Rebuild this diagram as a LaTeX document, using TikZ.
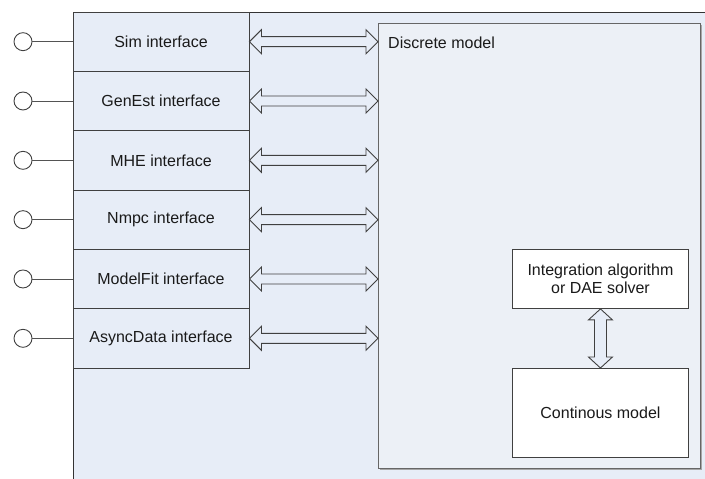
\documentclass[tikz,border=0pt]{standalone}
\usepackage{fontspec}
\setmainfont{Liberation Sans}
\usetikzlibrary{calc}
\definecolor{panelbg}{RGB}{231,237,247}
\definecolor{modelbg}{RGB}{236,240,246}
\definecolor{edge}{RGB}{64,64,64}
\definecolor{ink}{RGB}{26,26,26}
\tikzset{
  ifbox/.style={draw=edge, line width=0.9pt, fill=panelbg, minimum width=176pt,
    minimum height=59.33pt, inner sep=0pt, text=ink, font=\fontsize{16}{18}\selectfont},
  port/.style={circle, draw=edge, line width=0.9pt, fill=white, minimum size=18pt, inner sep=0pt},
  portline/.style={draw=edge!90, line width=0.9pt},
  modelbox/.style={draw=edge!80, line width=1pt, fill=modelbg},
  innerbox/.style={draw=edge, line width=0.9pt, fill=white, inner sep=0pt, text=ink,
    align=center, font=\fontsize{16}{18}\selectfont},
  fatarrow/.style={draw=edge, line width=0.9pt, fill=panelbg, line join=miter},
}
% hollow two-headed arrow between two points on one horizontal line
\newcommand\hfatarrow[2]{%
  \path[fatarrow] let \p1=(#1), \p2=(#2) in
    (\x1,\y1) -- (\x1+12pt,\y1+12pt) -- (\x1+12pt,\y1+5pt) -- (\x2-12pt,\y1+5pt)
    -- (\x2-12pt,\y1+12pt) -- (\x2,\y1) -- (\x2-12pt,\y1-12pt) -- (\x2-12pt,\y1-5pt)
    -- (\x1+12pt,\y1-5pt) -- (\x1+12pt,\y1-12pt) -- cycle;}
% hollow two-headed arrow between two points on one vertical line
\newcommand\vfatarrow[2]{%
  \path[fatarrow] let \p1=(#1), \p2=(#2) in
    (\x1,\y1) -- (\x1+12pt,\y1-11pt) -- (\x1+6pt,\y1-11pt) -- (\x1+6pt,\y2+11pt)
    -- (\x1+12pt,\y2+11pt) -- (\x1,\y2) -- (\x1-12pt,\y2+11pt) -- (\x1-6pt,\y2+11pt)
    -- (\x1-6pt,\y1-11pt) -- (\x1-12pt,\y1-11pt) -- cycle;}
\begin{document}
\begin{tikzpicture}[x=1pt, y=-1pt]
\useasboundingbox (0,0) rectangle (705,479);
% component panel
\fill[panelbg] (73,12) rectangle (706,480);
\draw[edge!80!black, line width=0.9pt] (73,480) -- (73,12) -- (706,12);
% discrete model with its slight shadow
\fill[gray!70] (379.5,24.5) rectangle (701.5,469.5);
\node[modelbox, minimum width=322pt, minimum height=445pt, inner sep=0pt, anchor=north west]
  (disc) at (378,23) {};
\node[anchor=west, inner sep=0pt, text=ink, font=\fontsize{16}{18}\selectfont]
  (disclabel) at (388,43) {Discrete model};
% interface column, ports and links to the discrete model
\foreach \name/\txt [count=\i] in {sim/Sim interface, genest/GenEst interface,
    mhe/MHE interface, nmpc/Nmpc interface, modelfit/ModelFit interface,
    async/AsyncData interface}{
  \node[ifbox] (\name) at (161, {12+59.33*(\i-0.5)}) {\txt};
  \node[port] (\name port) at (23, {12+59.33*(\i-0.5)}) {};
  \draw[portline] (\name port) -- (\name);
  \hfatarrow{\name.east}{\name.east -| disc.west}
}
% solver and continuous model
\node[innerbox, minimum width=176pt, minimum height=59pt, anchor=north west]
  (integ) at (512,249) {Integration algorithm\\or DAE solver};
\node[innerbox, minimum width=176pt, minimum height=89pt, anchor=north west]
  (cont) at (512,368) {Continous model};
\vfatarrow{integ.south}{cont.north}
\end{tikzpicture}
\end{document}
